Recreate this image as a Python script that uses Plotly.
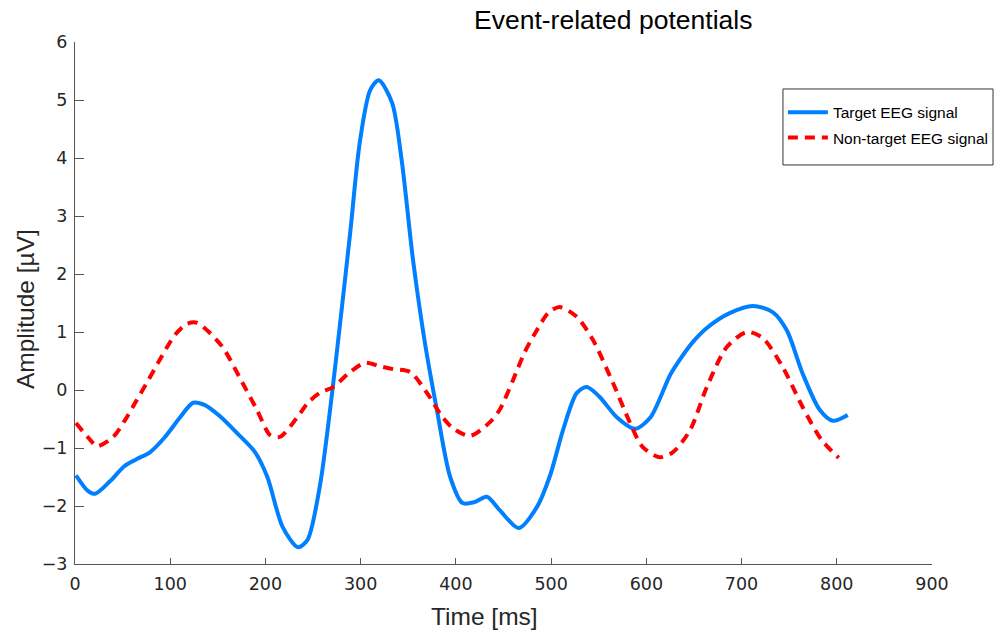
import plotly.graph_objects as go

# Target EEG signal (ms, µV)
target_t = [1, 13.6, 21, 37, 52, 65, 79, 94.5, 110, 124, 136.5, 152, 170, 189, 202, 218, 234, 244,
            257, 270, 278, 289, 299, 310, 319, 333, 343, 355, 367.5, 380, 394, 407, 420, 432.5,
            446, 466, 485, 499, 512.5, 527, 537.5, 551, 569, 588, 604, 625, 635, 649, 663.5,
            688, 712, 733, 747.5, 764, 782, 796, 811.5]
target_v = [-1.47, -1.74, -1.79, -1.57, -1.31, -1.19, -1.07, -0.81, -0.48, -0.22, -0.26, -0.45,
            -0.74, -1.07, -1.5, -2.36, -2.71, -2.59, -1.67, -0.05, 1.09, 2.71, 4.26, 5.17, 5.34,
            4.95, 3.97, 2.24, 0.81, -0.34, -1.5, -1.95, -1.93, -1.84, -2.07, -2.38, -2.02, -1.47,
            -0.69, -0.05, 0.05, -0.12, -0.47, -0.67, -0.48, 0.26, 0.52, 0.83, 1.07, 1.33, 1.45,
            1.34, 1.03, 0.29, -0.34, -0.53, -0.43]

# Non-target EEG signal (ms, µV)
nontarget_t = [1, 16, 23, 40, 52.5, 65, 77, 89, 105, 117.6, 128, 138.6, 155, 176, 191, 205, 215,
               233, 244.6, 257, 271, 289, 304.5, 320, 334, 352, 369.6, 386, 397, 415, 436, 446,
               460, 472.5, 485, 497, 509, 527, 544, 565, 583, 596, 614, 628, 646, 663.5, 684.5,
               705.5, 722, 743, 764, 784, 802]
nontarget_v = [-0.57, -0.86, -0.97, -0.81, -0.52, -0.17, 0.17, 0.52, 0.95, 1.14, 1.16, 1.03, 0.74,
               0.12, -0.34, -0.78, -0.81, -0.48, -0.22, -0.05, 0.05, 0.31, 0.47, 0.41, 0.36, 0.31,
               -0.05, -0.47, -0.66, -0.79, -0.55, -0.34, 0.17, 0.66, 1.03, 1.33, 1.43, 1.26, 0.86,
               0.12, -0.57, -0.98, -1.16, -1.07, -0.69, 0.05, 0.74, 1.0, 0.9, 0.4, -0.29, -0.86,
               -1.17]

x_ticks = [0, 100, 200, 300, 400, 500, 600, 700, 800, 900]
y_ticks = [-3, -2, -1, 0, 1, 2, 3, 4, 5, 6]

FONT = "Liberation Sans, Arial, sans-serif"
TICKFONT = "DejaVu Sans, sans-serif"

fig = go.Figure()
fig.add_trace(go.Scatter(x=target_t, y=target_v, mode="lines", name="Target EEG signal",
                         legendgroup="a",
                         line=dict(color="rgb(0,127,255)", width=4, shape="spline", smoothing=0.8)))
fig.add_trace(go.Scatter(x=nontarget_t, y=nontarget_v, mode="lines", name="Non-target EEG signal",
                         legendgroup="b",
                         line=dict(color="rgb(255,0,0)", width=4, shape="spline", smoothing=0.8,
                                   dash="10px,7px")))

axis_common = dict(showline=True, linecolor="#555555", linewidth=1, ticks="inside",
                   tickcolor="#555555", showgrid=False, zeroline=False, mirror=False,
                   automargin=False,
                   tickfont=dict(family=TICKFONT, size=17.5, color="#262626"))

fig.update_layout(
    width=995, height=632,
    paper_bgcolor="white", plot_bgcolor="white",
    margin=dict(l=75, r=63, t=42, b=68, autoexpand=False),
    font=dict(family=FONT, color="#262626"),
    title=dict(text="Event-related potentials", x=0.628, xref="paper", xanchor="center",
               y=0.968, yref="container", yanchor="middle",
               font=dict(family=FONT, size=26.5, color="#000000")),
    xaxis=dict(range=[0, 900], tickvals=x_ticks, ticklen=6, ticklabelstandoff=4,
               **axis_common),
    yaxis=dict(range=[-3, 6], tickvals=y_ticks, ticklen=9, ticklabelstandoff=3,
               **axis_common),
    legend=dict(x=0.826, y=0.897, xanchor="left", yanchor="top",
                borderwidth=0, bgcolor="rgba(0,0,0,0)", tracegroupgap=2,
                font=dict(family=FONT, size=15.5, color="#000000"),
                itemwidth=40),
    showlegend=True,
    shapes=[dict(type="rect", xref="paper", yref="paper", x0=0.8261, x1=1.0712,
                 y0=0.7644, y1=0.91, line=dict(color="#333333", width=1),
                 fillcolor="rgba(0,0,0,0)", layer="above")],
    annotations=[
        dict(text="Time [ms]", xref="paper", yref="paper", x=0.4784, y=-0.1015,
             xanchor="center", yanchor="middle", showarrow=False,
             font=dict(family=FONT, size=24.5, color="#262626")),
        dict(text="Amplitude [µV]", xref="paper", yref="paper", x=-0.0583, y=0.4885,
             xanchor="center", yanchor="middle", showarrow=False, textangle=-90,
             font=dict(family=FONT, size=24.5, color="#262626")),
    ],
)

fig.write_html("out.html")
